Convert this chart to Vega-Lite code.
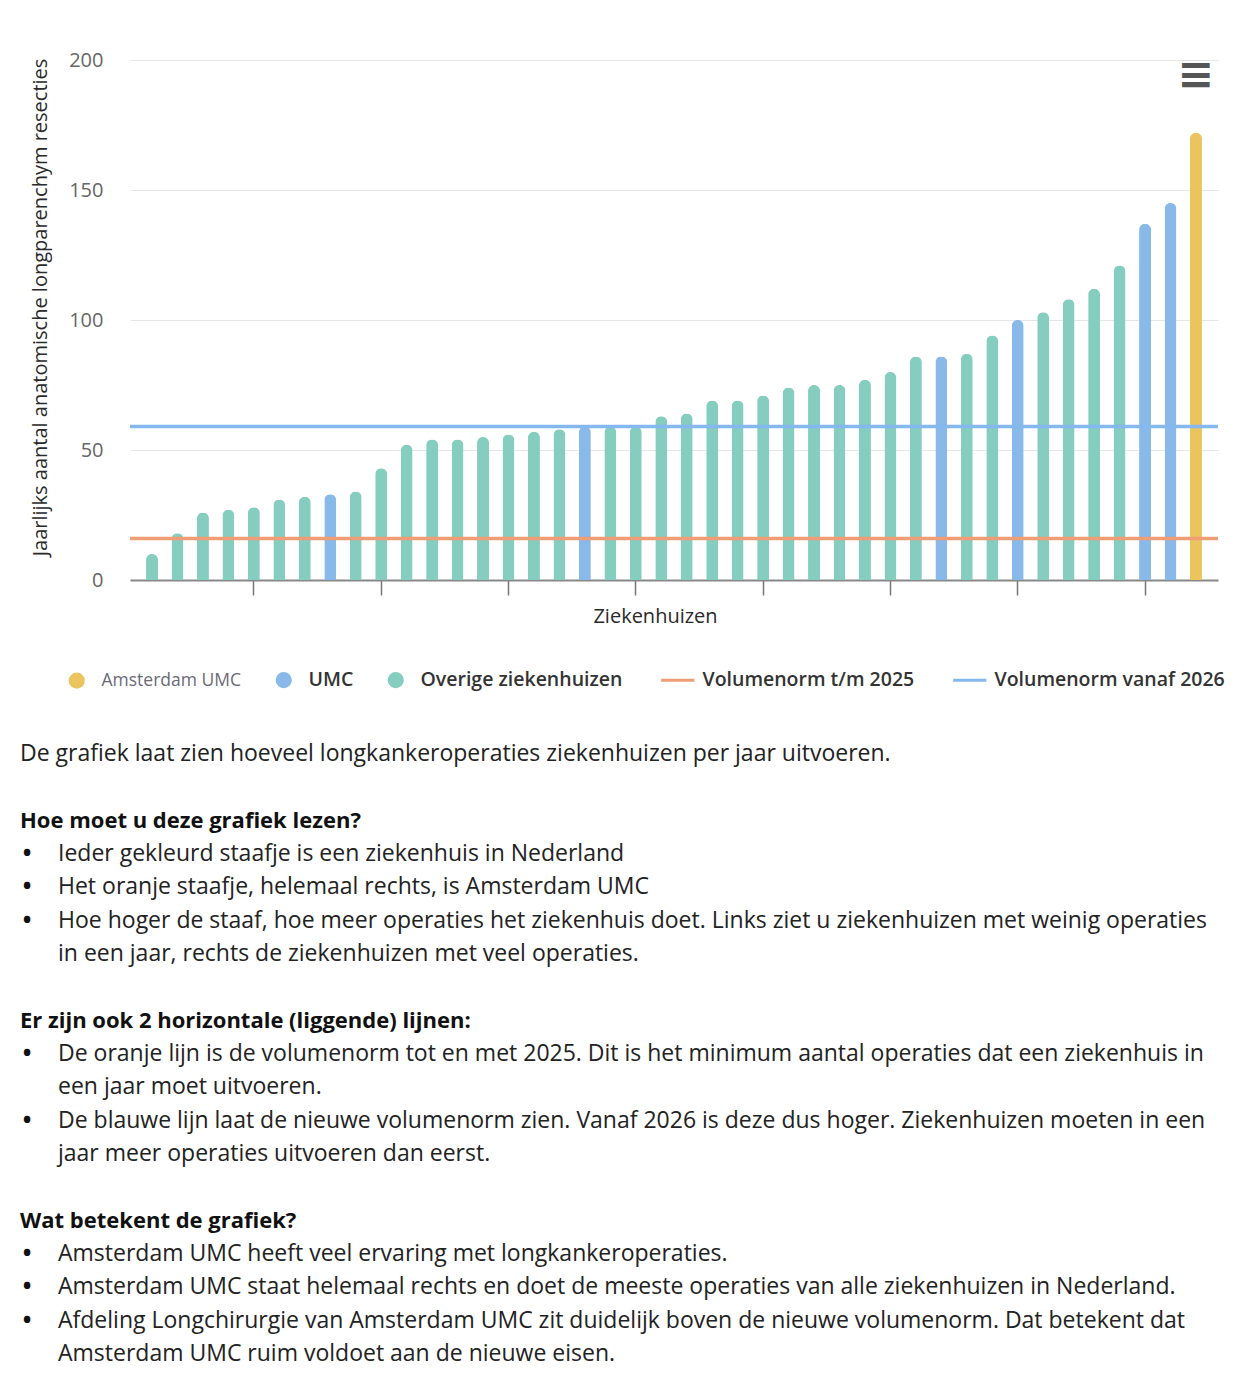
{
  "$schema": "https://vega.github.io/schema/vega-lite/v6.json",
  "background": "white",
  "padding": {"left": 20, "top": 50, "right": 0, "bottom": 20},
  "bounds": "flush",
  "spacing": 174,
  "config": {"view": {"stroke": null}, "font": "Open Sans"},
  "vconcat": [
    {
      "width": 1088,
      "height": 520,
      "layer": [
        {
          "data": {"values": [
            {"nr": 1, "resecties": 10, "groep": "Overige ziekenhuizen"},
            {"nr": 2, "resecties": 18, "groep": "Overige ziekenhuizen"},
            {"nr": 3, "resecties": 26, "groep": "Overige ziekenhuizen"},
            {"nr": 4, "resecties": 27, "groep": "Overige ziekenhuizen"},
            {"nr": 5, "resecties": 28, "groep": "Overige ziekenhuizen"},
            {"nr": 6, "resecties": 31, "groep": "Overige ziekenhuizen"},
            {"nr": 7, "resecties": 32, "groep": "Overige ziekenhuizen"},
            {"nr": 8, "resecties": 33, "groep": "UMC"},
            {"nr": 9, "resecties": 34, "groep": "Overige ziekenhuizen"},
            {"nr": 10, "resecties": 43, "groep": "Overige ziekenhuizen"},
            {"nr": 11, "resecties": 52, "groep": "Overige ziekenhuizen"},
            {"nr": 12, "resecties": 54, "groep": "Overige ziekenhuizen"},
            {"nr": 13, "resecties": 54, "groep": "Overige ziekenhuizen"},
            {"nr": 14, "resecties": 55, "groep": "Overige ziekenhuizen"},
            {"nr": 15, "resecties": 56, "groep": "Overige ziekenhuizen"},
            {"nr": 16, "resecties": 57, "groep": "Overige ziekenhuizen"},
            {"nr": 17, "resecties": 58, "groep": "Overige ziekenhuizen"},
            {"nr": 18, "resecties": 59, "groep": "UMC"},
            {"nr": 19, "resecties": 59, "groep": "Overige ziekenhuizen"},
            {"nr": 20, "resecties": 59, "groep": "Overige ziekenhuizen"},
            {"nr": 21, "resecties": 63, "groep": "Overige ziekenhuizen"},
            {"nr": 22, "resecties": 64, "groep": "Overige ziekenhuizen"},
            {"nr": 23, "resecties": 69, "groep": "Overige ziekenhuizen"},
            {"nr": 24, "resecties": 69, "groep": "Overige ziekenhuizen"},
            {"nr": 25, "resecties": 71, "groep": "Overige ziekenhuizen"},
            {"nr": 26, "resecties": 74, "groep": "Overige ziekenhuizen"},
            {"nr": 27, "resecties": 75, "groep": "Overige ziekenhuizen"},
            {"nr": 28, "resecties": 75, "groep": "Overige ziekenhuizen"},
            {"nr": 29, "resecties": 77, "groep": "Overige ziekenhuizen"},
            {"nr": 30, "resecties": 80, "groep": "Overige ziekenhuizen"},
            {"nr": 31, "resecties": 86, "groep": "Overige ziekenhuizen"},
            {"nr": 32, "resecties": 86, "groep": "UMC"},
            {"nr": 33, "resecties": 87, "groep": "Overige ziekenhuizen"},
            {"nr": 34, "resecties": 94, "groep": "Overige ziekenhuizen"},
            {"nr": 35, "resecties": 100, "groep": "UMC"},
            {"nr": 36, "resecties": 103, "groep": "Overige ziekenhuizen"},
            {"nr": 37, "resecties": 108, "groep": "Overige ziekenhuizen"},
            {"nr": 38, "resecties": 112, "groep": "Overige ziekenhuizen"},
            {"nr": 39, "resecties": 121, "groep": "Overige ziekenhuizen"},
            {"nr": 40, "resecties": 137, "groep": "UMC"},
            {"nr": 41, "resecties": 145, "groep": "UMC"},
            {"nr": 42, "resecties": 172, "groep": "Amsterdam UMC"}
          ]},
          "mark": {"type": "bar", "cornerRadiusTopLeft": 6, "cornerRadiusTopRight": 6},
          "encoding": {
            "x": {
              "field": "nr", "type": "ordinal",
              "scale": {"paddingInner": 0.53, "paddingOuter": 0.63},
              "axis": {
                "title": "Ziekenhuizen", "values": [5, 10, 15, 20, 25, 30, 35, 40],
                "labels": false, "ticks": true, "tickSize": 15, "tickColor": "#777777", "tickWidth": 1.5,
                "domainColor": "#888888", "domainWidth": 2, "grid": false,
                "titleFontSize": 20, "titleFontWeight": 500, "titleColor": "#2a2a2a", "titlePadding": 11,
                "titleX": 525
              }
            },
            "y": {
              "field": "resecties", "type": "quantitative",
              "scale": {"domain": [0, 200]},
              "axis": {
                "title": "Jaarlijks aantal anatomische longparenchym resecties",
                "values": [0, 50, 100, 150, 200], "grid": true, "gridColor": "#e6e6e6",
                "domain": false, "ticks": false, "labelPadding": 27, "labelFontSize": 20, "labelColor": "#666666",
                "titleFontSize": 20, "titleFontWeight": 500, "titleColor": "#2a2a2a", "titlePadding": 18,
                "titleY": 247
              }
            },
            "color": {
              "field": "groep", "type": "nominal",
              "scale": {
                "domain": ["Amsterdam UMC", "UMC", "Overige ziekenhuizen", "Volumenorm t/m 2025", "Volumenorm vanaf 2026"],
                "range": ["#ebc35f", "#88b9e8", "#85cdbf", "#ee9d75", "#84b8ee"]
              },
              "legend": {
                "title": null, "orient": "none", "legendX": -63, "legendY": 610,
                "direction": "horizontal", "columns": 5, "symbolType": "circle", "symbolSize": 260,
                "symbolStrokeWidth": 0, "labelFontSize": 19.5, "labelFontWeight": 600, "labelColor": "#333333",
                "labelOffset": 15, "columnPadding": 32, "labelLimit": 400, "padding": 0,
                "encode": {
                  "symbols": {"update": {
                    "shape": {"signal": "datum.value === 'Volumenorm t/m 2025' || datum.value === 'Volumenorm vanaf 2026' ? 'stroke' : 'circle'"},
                    "size": {"signal": "datum.value === 'Volumenorm t/m 2025' || datum.value === 'Volumenorm vanaf 2026' ? 1100 : 260"},
                    "stroke": {"signal": "datum.value === 'Volumenorm t/m 2025' ? '#ee9d75' : datum.value === 'Volumenorm vanaf 2026' ? '#84b8ee' : 'transparent'"},
                    "strokeWidth": {"signal": "datum.value === 'Volumenorm t/m 2025' || datum.value === 'Volumenorm vanaf 2026' ? 3 : 0"}
                  }},
                  "labels": {"update": {
                    "fill": {"signal": "datum.value === 'Amsterdam UMC' ? '#6a6a78' : '#333333'"},
                    "fontWeight": {"signal": "datum.value === 'Amsterdam UMC' ? 'normal' : 600"},
                    "fontSize": {"signal": "datum.value === 'Amsterdam UMC' ? 17.5 : 19.5"}
                  }}
                }
              }
            }
          }
        },
        {
          "data": {"values": [
            {"norm": "Volumenorm t/m 2025", "waarde": 16},
            {"norm": "Volumenorm vanaf 2026", "waarde": 59}
          ]},
          "mark": {"type": "rule", "strokeWidth": 3.5},
          "encoding": {
            "y": {"field": "waarde", "type": "quantitative"},
            "color": {"field": "norm", "type": "nominal"}
          }
        },
        {
          "data": {"values": [{}]},
          "mark": {"type": "text", "text": "≡", "font": "DejaVu Sans", "fontSize": 44, "fontWeight": "bold", "color": "#555555", "baseline": "middle", "align": "center"},
          "encoding": {"x": {"datum": 42, "type": "ordinal"}, "y": {"datum": 194, "type": "quantitative"}}
        }
      ]
    },
    {
      "width": 1088,
      "height": 600,
      "data": {"values": [
        {"regel": 0, "stijl": "p", "tekst": "De grafiek laat zien hoeveel longkankeroperaties ziekenhuizen per jaar uitvoeren."},
        {"regel": 2, "stijl": "kop", "tekst": "Hoe moet u deze grafiek lezen?"},
        {"regel": 3, "stijl": "b", "tekst": "Ieder gekleurd staafje is een ziekenhuis in Nederland"},
        {"regel": 4, "stijl": "b", "tekst": "Het oranje staafje, helemaal rechts, is Amsterdam UMC"},
        {"regel": 5, "stijl": "b", "tekst": "Hoe hoger de staaf, hoe meer operaties het ziekenhuis doet. Links ziet u ziekenhuizen met weinig operaties"},
        {"regel": 6, "stijl": "c", "tekst": "in een jaar, rechts de ziekenhuizen met veel operaties."},
        {"regel": 8, "stijl": "kop", "tekst": "Er zijn ook 2 horizontale (liggende) lijnen:"},
        {"regel": 9, "stijl": "b", "tekst": "De oranje lijn is de volumenorm tot en met 2025. Dit is het minimum aantal operaties dat een ziekenhuis in"},
        {"regel": 10, "stijl": "c", "tekst": "een jaar moet uitvoeren."},
        {"regel": 11, "stijl": "b", "tekst": "De blauwe lijn laat de nieuwe volumenorm zien. Vanaf 2026 is deze dus hoger. Ziekenhuizen moeten in een"},
        {"regel": 12, "stijl": "c", "tekst": "jaar meer operaties uitvoeren dan eerst."},
        {"regel": 14, "stijl": "kop", "tekst": "Wat betekent de grafiek?"},
        {"regel": 15, "stijl": "b", "tekst": "Amsterdam UMC heeft veel ervaring met longkankeroperaties."},
        {"regel": 16, "stijl": "b", "tekst": "Amsterdam UMC staat helemaal rechts en doet de meeste operaties van alle ziekenhuizen in Nederland."},
        {"regel": 17, "stijl": "b", "tekst": "Afdeling Longchirurgie van Amsterdam UMC zit duidelijk boven de nieuwe volumenorm. Dat betekent dat"},
        {"regel": 18, "stijl": "c", "tekst": "Amsterdam UMC ruim voldoet aan de nieuwe eisen."}
      ]},
      "encoding": {
        "y": {"field": "regel", "type": "quantitative", "scale": {"domain": [0, 18], "reverse": true}, "axis": null},
        "x": {"value": 0}
      },
      "layer": [
        {
          "transform": [{"filter": "datum.stijl === 'kop'"}],
          "mark": {"type": "text", "align": "left", "baseline": "middle", "dx": -110, "fontSize": 22, "fontWeight": "bold", "color": "#111111"},
          "encoding": {"text": {"field": "tekst"}}
        },
        {
          "transform": [{"filter": "datum.stijl === 'p'"}],
          "mark": {"type": "text", "align": "left", "baseline": "middle", "dx": -110, "fontSize": 23, "color": "#222222"},
          "encoding": {"text": {"field": "tekst"}}
        },
        {
          "transform": [{"filter": "datum.stijl === 'b' || datum.stijl === 'c'"}],
          "mark": {"type": "text", "align": "left", "baseline": "middle", "dx": -72, "fontSize": 23, "color": "#222222"},
          "encoding": {"text": {"field": "tekst"}}
        },
        {
          "transform": [{"filter": "datum.stijl === 'b'"}],
          "mark": {"type": "text", "text": "•", "align": "center", "baseline": "middle", "dx": -103, "fontSize": 23, "fontWeight": "bold", "color": "#111111"},
          "encoding": {}
        }
      ]
    }
  ]
}
